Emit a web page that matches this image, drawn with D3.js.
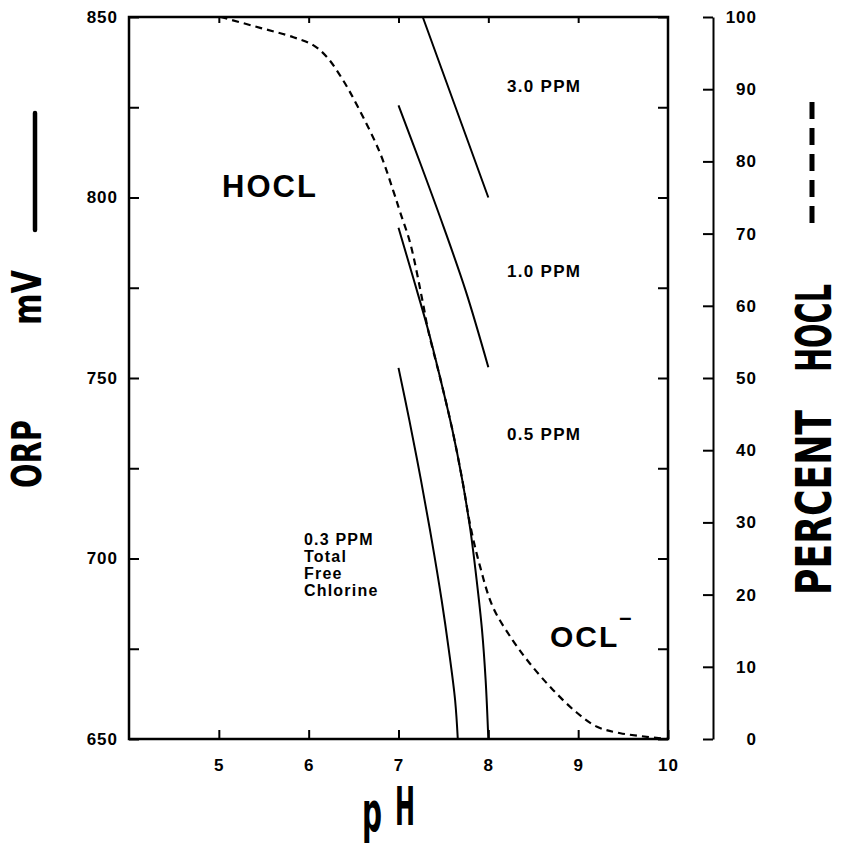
<!DOCTYPE html>
<html>
<head>
<meta charset="utf-8">
<script src="https://cdn.jsdelivr.net/npm/d3@7"></script>
<style>
body{margin:0;background:#fff}
svg text{font-family:"Liberation Sans",Arial,sans-serif;font-weight:bold;fill:#000}
.cond{font-family:"Liberation Sans Narrow","DejaVu Sans Condensed",sans-serif}
</style>
</head>
<body>
<div id="chart"></div>
<script>
// tick values
const phTicks = [5, 6, 7, 8, 9, 10];
const phTopTicks = [5, 6, 7, 8, 9];
const mvTicks = [650, 675, 700, 725, 750, 775, 800, 825, 850];
const pctTicks = [0, 10, 20, 30, 40, 50, 60, 70, 80, 90, 100];

// ORP (mV) vs pH for each free chlorine level
const ppm30 = [[7.27, 850], [7.635, 825], [8.0, 800]];
const ppm10 = [[7.0, 825.5], [7.25, 809], [7.5, 792], [7.75, 774], [8.0, 753]];
const ppm05 = [[7.0, 791.6], [7.17, 777.2], [7.33, 763.3], [7.47, 749.4], [7.6, 735.6], [7.71, 721.7],
               [7.8, 707.9], [7.87, 694], [7.93, 680.1], [7.97, 666.3], [8.0, 650]];
const ppm03 = [[7.0, 752.8], [7.12, 738.4], [7.25, 721.7], [7.37, 705.1], [7.48, 688.5], [7.56, 674.7],
               [7.63, 660.8], [7.66, 650]];

// percent HOCL vs pH (dashed)
const hoclPct = [[5.02, 100], [5.46, 98.5], [5.83, 97.2], [6.05, 96.1], [6.2, 94.5], [6.38, 91.3], [6.55, 87.5],
                 [6.79, 81.3], [6.94, 76], [7.02, 72.9], [7.13, 68.7], [7.27, 60.5], [7.33, 56.6], [7.47, 49.7],
                 [7.6, 42.8], [7.71, 35.9], [7.8, 29.5], [7.91, 23.8], [8.05, 18.3], [8.27, 13.7],
                 [8.46, 10.5], [8.72, 6.8], [8.99, 3.6], [9.21, 1.7], [9.47, 0.8], [10.0, 0]];

const svg = d3.select("#chart").append("svg")
  .attr("width", 846).attr("height", 848);

const x = d3.scaleLinear().domain([4, 10]).range([129, 668]);
const y = d3.scaleLinear().domain([650, 850]).range([739, 17]);
const yPct = d3.scaleLinear().domain([0, 100]).range([739, 17]);

// left axis, ticks pointing in
svg.append("g").attr("transform", "translate(129,0)")
  .call(d3.axisLeft(y).tickValues(mvTicks).tickSizeInner(-10).tickSizeOuter(0).tickPadding(11)
    .tickFormat(d => d % 50 === 0 ? d : ""))
  .call(g => g.select(".domain").remove());

// right edge of box, ticks only
svg.append("g").attr("transform", "translate(668,0)")
  .call(d3.axisRight(y).tickValues(mvTicks).tickSizeInner(-10).tickSizeOuter(0).tickFormat(""))
  .call(g => g.select(".domain").remove());

// bottom axis
svg.append("g").attr("transform", "translate(0,739)")
  .call(d3.axisBottom(x).tickValues(phTicks).tickSizeInner(-9).tickSizeOuter(0).tickPadding(20)
    .tickFormat(d3.format("d")))
  .call(g => g.select(".domain").remove());

// top ticks
svg.append("g").attr("transform", "translate(0,17)")
  .call(d3.axisTop(x).tickValues(phTopTicks).tickSizeInner(-6).tickSizeOuter(0).tickFormat(""))
  .call(g => g.select(".domain").remove());

// box
svg.append("rect")
  .attr("x", 129).attr("y", 17).attr("width", 668 - 129).attr("height", 739 - 17)
  .attr("fill", "none").attr("stroke", "#000").attr("stroke-width", 2.5);

// separate percent axis
svg.append("g").attr("transform", "translate(713,0)")
  .call(d3.axisRight(yPct).tickValues(pctTicks).tickSizeInner(-10).tickSizeOuter(0).tickPadding(44))
  .call(g => g.selectAll("text").attr("text-anchor", "end"))
  .call(g => g.select(".domain").attr("stroke-width", 2));

svg.selectAll(".tick line").attr("stroke", "#000").attr("stroke-width", 2);
svg.selectAll(".tick text").attr("font-size", 17).style("letter-spacing", "1px")
  .attr("font-family", null).attr("fill", "#000");

// curves
const line = d3.line().x(d => x(d[0])).y(d => y(d[1])).curve(d3.curveCatmullRom.alpha(0.5));
const pctLine = d3.line().x(d => x(d[0])).y(d => yPct(d[1])).curve(d3.curveCatmullRom.alpha(0.5));

[ppm30, ppm10, ppm05, ppm03].forEach(s => {
  svg.append("path").datum(s).attr("d", line)
    .attr("fill", "none").attr("stroke", "#000").attr("stroke-width", 2);
});

svg.append("path").datum(hoclPct).attr("d", pctLine)
  .attr("fill", "none").attr("stroke", "#000").attr("stroke-width", 2.2)
  .attr("stroke-dasharray", "7,5");

// in-plot labels
svg.append("text").attr("x", 222).attr("y", 197).attr("font-size", 31)
  .style("letter-spacing", "2px").text("HOCL");

const ocl = svg.append("text").attr("x", 550).attr("y", 647).attr("font-size", 30)
  .style("letter-spacing", "2px");
ocl.append("tspan").text("OCL");
ocl.append("tspan").attr("dy", -22).attr("font-size", 22).text("\u2013");

svg.append("text").attr("x", 507).attr("y", 92).attr("font-size", 17).style("letter-spacing", "1.3px").text("3.0 PPM");
svg.append("text").attr("x", 507).attr("y", 277).attr("font-size", 17).style("letter-spacing", "1.3px").text("1.0 PPM");
svg.append("text").attr("x", 507).attr("y", 440).attr("font-size", 17).style("letter-spacing", "1.3px").text("0.5 PPM");

const lowLabel = ["0.3 PPM", "Total", "Free", "Chlorine"];
svg.append("g").selectAll("text").data(lowLabel).join("text")
  .attr("x", 304).attr("y", (d, i) => 545 + i * 17)
  .attr("font-size", 16).style("letter-spacing", "1.2px").text(d => d);

// axis titles
svg.append("text").attr("class", "cond").attr("x", 362).attr("y", 831)
  .attr("font-size", 56).attr("textLength", 20).attr("lengthAdjust", "spacingAndGlyphs").text("p");
svg.append("text").attr("class", "cond").attr("x", 395).attr("y", 825)
  .attr("font-size", 54).attr("textLength", 20).attr("lengthAdjust", "spacingAndGlyphs").text("H");

// left title, reads bottom to top
svg.append("text").attr("class", "cond").attr("transform", "translate(41,488) rotate(-90)")
  .attr("font-size", 40).attr("textLength", 68).attr("lengthAdjust", "spacingAndGlyphs").text("ORP");
svg.append("text").attr("class", "cond").attr("transform", "translate(41,325) rotate(-90)")
  .attr("font-size", 40).attr("textLength", 55).attr("lengthAdjust", "spacingAndGlyphs").text("mV");
svg.append("line").attr("x1", 35).attr("x2", 35).attr("y1", 113).attr("y2", 230)
  .attr("stroke", "#000").attr("stroke-width", 4.5).attr("stroke-linecap", "round");

// right title
svg.append("text").attr("class", "cond").attr("transform", "translate(831,595) rotate(-90)")
  .attr("font-size", 50).attr("textLength", 185).attr("lengthAdjust", "spacingAndGlyphs").text("PERCENT");
svg.append("text").attr("class", "cond").attr("transform", "translate(831,372) rotate(-90)")
  .attr("font-size", 50).attr("textLength", 88).attr("lengthAdjust", "spacingAndGlyphs").text("HOCL");
svg.append("line").attr("x1", 812).attr("x2", 812).attr("y1", 102).attr("y2", 228)
  .attr("stroke", "#000").attr("stroke-width", 5).attr("stroke-dasharray", "17,9");
</script>
</body>
</html>
